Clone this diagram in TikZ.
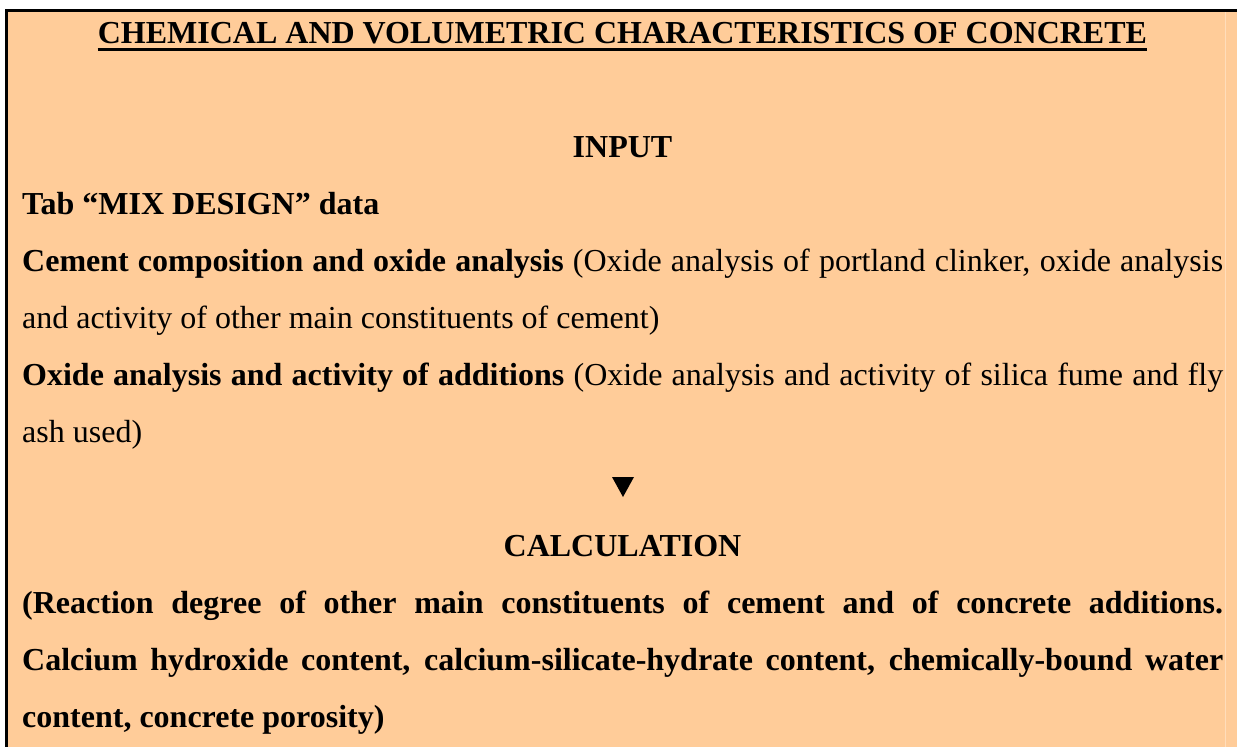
\documentclass[tikz,border=0pt]{standalone}
\usepackage{fontspec}
\setmainfont{Liberation Serif}
\definecolor{peach}{HTML}{FFCC99}
\definecolor{paledge}{HTML}{FFDDBB}
\newcommand\jline[1]{\makebox[1201pt][s]{#1}}
\tikzset{
  txtline/.style={anchor=base west, inner sep=0pt, font=\fontsize{32}{38}\selectfont},
  boldline/.style={txtline, font=\bfseries\fontsize{32}{38}\selectfont},
  headline/.style={anchor=base, inner sep=0pt, font=\bfseries\fontsize{32}{38}\selectfont},
  frameline/.style={black, line width=3pt},
}
\begin{document}
\begin{tikzpicture}[x=1pt, y=-1pt]
\useasboundingbox (0,0) rectangle (1237,747);
\fill[white] (0,0) rectangle (1237,747);
\fill[peach] (5,9) rectangle (1237,747);
\draw[paledge, line width=1pt] (1225.5,12) -- (1225.5,747);
\draw[frameline] (5,10.4) -- (1237,10.4);
\draw[frameline] (6.6,9) -- (6.6,747);

\node[headline] (title) at (622.5,43) {CHEMICAL AND VOLUMETRIC CHARACTERISTICS OF CONCRETE};
\draw[line width=2.4pt] ([yshift=-6.5pt]title.base west) -- ([yshift=-6.5pt]title.base east);

\node[headline] (input) at (622.5,157) {INPUT};
\node[boldline] (mix) at (22,214) {Tab “MIX DESIGN” data};
\node[txtline] (cem1) at (22,271) {\jline{\textbf{Cement composition and oxide analysis} (Oxide analysis of portland clinker, oxide analysis}};
\node[txtline] (cem2) at (22,328) {and activity of other main constituents of cement)};
\node[txtline] (add1) at (22,385) {\jline{\textbf{Oxide analysis and activity of additions} (Oxide analysis and activity of silica fume and fly}};
\node[txtline] (add2) at (22,442) {ash used)};

\fill (612,477) -- (634,477) -- (623,497) -- cycle;

\node[headline] (calc) at (622.5,556) {CALCULATION};
\node[boldline] (c1) at (22,613) {\jline{(Reaction degree of other main constituents of cement and of concrete additions.}};
\node[boldline] (c2) at (22,670) {\jline{Calcium hydroxide content, calcium-silicate-hydrate content, chemically-bound water}};
\node[boldline] (c3) at (22,727) {content, concrete porosity)};
\end{tikzpicture}
\end{document}
